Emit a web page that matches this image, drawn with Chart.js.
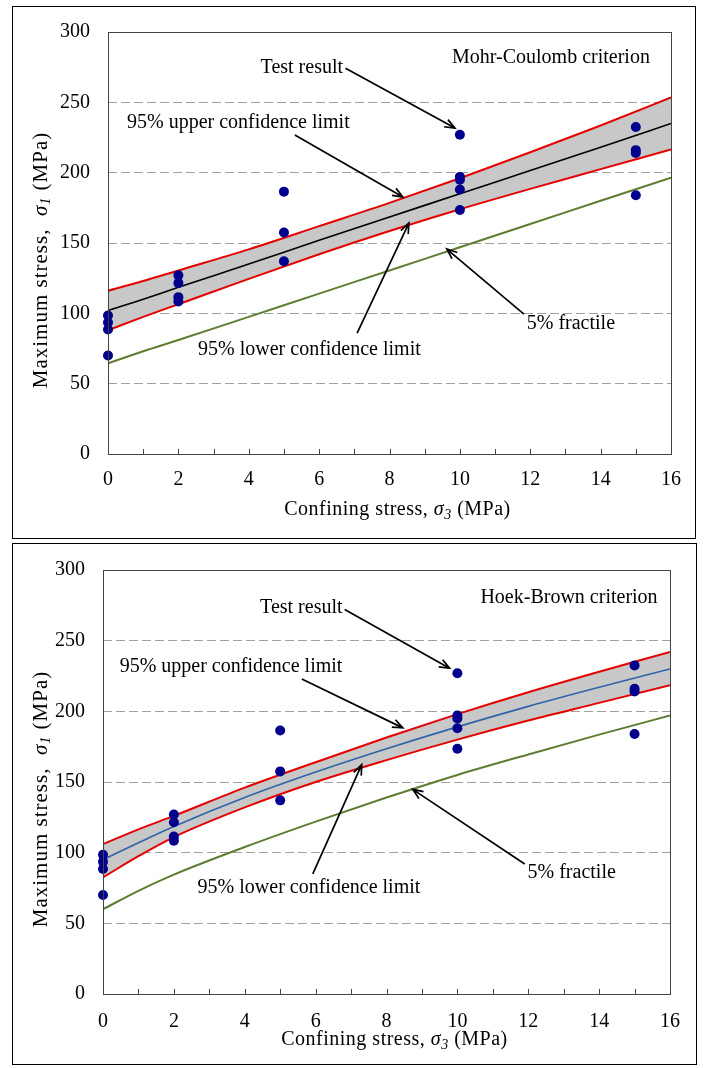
<!DOCTYPE html>
<html>
<head>
<meta charset="utf-8">
<script src="https://cdn.jsdelivr.net/npm/chart.js@4/dist/chart.umd.min.js"></script>
<style>
  body { margin: 0; background: #fff; width: 710px; height: 1068px; position: relative; overflow: hidden; }
  .frame { position: absolute; border: 1px solid #000; box-sizing: border-box; }
  canvas { position: absolute; left: 0; }
</style>
</head>
<body>
<div class="frame" style="left:12px;top:6px;width:684px;height:533px"></div>
<div class="frame" style="left:12px;top:543px;width:685px;height:522px"></div>
<canvas id="mc" width="710" height="540" style="top:0"></canvas>
<canvas id="hb" width="710" height="528" style="top:540px"></canvas>
<script>
// test results (confining stress, maximum stress), same for both criteria
const testS3 = [0, 0, 0, 0, 2, 2, 2, 2, 5, 5, 5, 10, 10, 10, 10, 10, 15, 15, 15, 15];
const testS1 = [98.5, 93.5, 88.5, 70, 127, 121.5, 111.5, 108.5, 186.5, 157.5, 137, 227, 197, 195, 188, 173.5, 232.5, 216, 214, 184];

// fitted curves at these confining stresses
const fitS3 = [0, 1, 2, 4, 6, 8, 10, 12, 14, 16];

const mcMean     = [102, 110, 118.5, 135, 152, 168.5, 185, 201.5, 218, 235];
const mcUpper    = [116, 123, 130.5, 145.5, 162, 178.5, 196, 214.5, 233.5, 253.5];
const mcLower    = [88, 97.5, 106.5, 124.5, 142, 158.5, 174, 188.5, 202.5, 216.5];
const mcFractile = [64.5, 73, 81, 97.5, 114, 130.5, 147, 163.5, 180, 196.5];

const hbMean     = [95, 107, 118.5, 139, 157, 173.5, 189, 203.5, 217, 230];
const hbUpper    = [106, 116.5, 126, 146, 164, 181.5, 198, 213.5, 228, 242];
const hbLower    = [82.5, 97.5, 111, 132, 150, 165.5, 180, 193.5, 206, 218.5];
const hbFractile = [60, 73, 84.5, 104, 122, 139, 155, 169.5, 183.5, 197];

const xTicks = [0, 2, 4, 6, 8, 10, 12, 14, 16];
const yTicks = [0, 50, 100, 150, 200, 250, 300];

const FONT = '"Liberation Serif", "Times New Roman", serif';

const pts = (xs, ys) => xs.map((x, i) => ({ x: x, y: ys[i] }));

function drawArrow(ctx, x1, y1, x2, y2) {
  const ang = Math.atan2(y2 - y1, x2 - x1);
  const len = 11, spread = 0.38;
  ctx.beginPath();
  ctx.moveTo(x1, y1);
  ctx.lineTo(x2, y2);
  ctx.moveTo(x2 - len * Math.cos(ang - spread), y2 - len * Math.sin(ang - spread));
  ctx.lineTo(x2, y2);
  ctx.lineTo(x2 - len * Math.cos(ang + spread), y2 - len * Math.sin(ang + spread));
  ctx.stroke();
}

// text with an italic sigma and subscript, centred on (0,0)
function sigmaTitle(ctx, size, before, sub, after) {
  const normal = size + 'px ' + FONT, ital = 'italic ' + size + 'px ' + FONT, small = 'italic 14px ' + FONT;
  ctx.font = normal; const w1 = ctx.measureText(before).width;
  ctx.font = ital; const w2 = ctx.measureText('\u03c3').width;
  ctx.font = small; const w3 = ctx.measureText(sub).width;
  ctx.font = normal; const w4 = ctx.measureText(after).width;
  let x = -(w1 + w2 + w3 + w4) / 2;
  ctx.textAlign = 'left';
  ctx.textBaseline = 'middle';
  ctx.font = normal; ctx.fillText(before, x, 0); x += w1;
  ctx.font = ital; ctx.fillText('\u03c3', x, 0); x += w2;
  ctx.font = small; ctx.fillText(sub, x, 5); x += w3;
  ctx.font = normal; ctx.fillText(after, x, 0);
}

const decor = {
  id: 'decor',
  afterDraw(chart, args, opts) {
    const { ctx, chartArea: a, scales: { x, y } } = chart;
    ctx.save();
    // plot frame
    ctx.strokeStyle = '#444';
    ctx.lineWidth = 1;
    ctx.strokeRect(Math.round(a.left) + 0.5, Math.round(a.top) + 0.5, Math.round(a.width), Math.round(a.height));
    // inner tick marks on x axis
    ctx.beginPath();
    for (let v = 1; v < 16; v++) {
      const px = Math.round(x.getPixelForValue(v)) + 0.5;
      ctx.moveTo(px, a.bottom);
      ctx.lineTo(px, a.bottom - 5);
    }
    ctx.stroke();

    // notes and arrows
    ctx.fillStyle = '#000';
    ctx.strokeStyle = '#000';
    ctx.lineWidth = 1.7;
    ctx.font = '20px ' + FONT;
    ctx.textBaseline = 'middle';
    opts.notes.forEach(n => {
      ctx.textAlign = n.align;
      ctx.fillText(n.text, x.getPixelForValue(n.at[0]), y.getPixelForValue(n.at[1]));
      if (n.from) {
        drawArrow(ctx, x.getPixelForValue(n.from[0]), y.getPixelForValue(n.from[1]),
                  x.getPixelForValue(n.to[0]), y.getPixelForValue(n.to[1]));
      }
    });

    // axis titles
    ctx.save();
    ctx.letterSpacing = '0.5px';
    ctx.translate(a.left + a.width / 2 + 8, a.bottom + opts.xTitleGap);
    sigmaTitle(ctx, 20, 'Confining stress, ', '3', ' (MPa)');
    ctx.restore();
    ctx.save();
    ctx.letterSpacing = '1px';
    ctx.translate(41, a.top + a.height / 2 + 17);
    ctx.rotate(-Math.PI / 2);
    sigmaTitle(ctx, 21, 'Maximum stress,  ', '1', ' (MPa)');
    ctx.restore();
    ctx.restore();
  }
};

function makeChart(id, mean, meanColor, upper, lower, fractile, layout, notes) {
  const line = (data, color, width, extra) => Object.assign({
    data: pts(fitS3, data),
    borderColor: color,
    borderWidth: width,
    pointRadius: 0,
    cubicInterpolationMode: 'monotone',
    fill: false
  }, extra || {});

  return new Chart(document.getElementById(id), {
    type: 'line',
    data: {
      datasets: [
        { data: pts(testS3, testS1), showLine: false, pointRadius: 5, pointHoverRadius: 5, clip: false,
          pointBackgroundColor: '#00008c', pointBorderColor: '#00008c', pointBorderWidth: 0, order: 1 },
        line(upper, '#e60000', 2, { fill: '+1', backgroundColor: '#c8c8c8', order: 3 }),
        line(lower, '#e60000', 2, { order: 3 }),
        line(mean, meanColor, 1.6, { order: 2 }),
        line(fractile, '#5e7d30', 2, { order: 4 })
      ]
    },
    options: {
      responsive: false,
      animation: false,
      devicePixelRatio: 1,
      layout: { padding: { top: layout.top, right: layout.right, left: 0, bottom: 0 } },
      plugins: {
        legend: { display: false },
        tooltip: { enabled: false },
        filler: { drawTime: 'beforeDatasetsDraw' },
        decor: { notes: notes, xTitleGap: layout.xTitleGap }
      },
      scales: {
        x: {
          type: 'linear', min: 0, max: 16,
          afterBuildTicks: s => { s.ticks = xTicks.map(v => ({ value: v })); },
          afterFit: s => { s.height = layout.xHeight; },
          ticks: { color: '#000', font: { family: FONT, size: 20 }, padding: layout.xPad, maxRotation: 0 },
          grid: { display: false },
          border: { display: false }
        },
        y: {
          min: 0, max: 300,
          afterBuildTicks: s => { s.ticks = yTicks.map(v => ({ value: v })); },
          afterFit: s => { s.width = layout.yWidth; },
          ticks: { color: '#000', font: { family: FONT, size: 20 }, padding: 18 },
          grid: {
            drawTicks: false,
            lineWidth: 1,
            color: c => (c.tick && (c.tick.value === 0 || c.tick.value === 300)) ? 'rgba(0,0,0,0)' : '#a0a0a0'
          },
          border: { display: false, dash: [9, 4] }
        }
      }
    },
    plugins: [decor]
  });
}

makeChart('mc', mcMean, '#000', mcUpper, mcLower, mcFractile,
  { top: 32, right: 39, yWidth: 108, xHeight: 86, xPad: 6, xTitleGap: 56 },
  [
    { text: 'Mohr-Coulomb criterion', align: 'right', at: [15.4, 281.4] },
    { text: 'Test result', align: 'right', at: [6.68, 274.3], from: [6.75, 274.3], to: [9.86, 231.7] },
    { text: '95% upper confidence limit', align: 'left', at: [0.54, 235.3], from: [5.31, 226.8], to: [8.38, 182.7] },
    { text: '95% lower confidence limit', align: 'left', at: [2.56, 73.9], from: [7.08, 86], to: [8.55, 164.2] },
    { text: '5% fractile', align: 'left', at: [11.9, 92.4], from: [11.82, 99.5], to: [9.63, 145.7] }
  ]);

makeChart('hb', hbMean, '#2e64a8', hbUpper, hbLower, hbFractile,
  { top: 27, right: 40, yWidth: 103, xHeight: 74, xPad: 8, xTitleGap: 46 },
  [
    { text: 'Hoek-Brown criterion', align: 'right', at: [15.65, 280.4] },
    { text: 'Test result', align: 'right', at: [6.76, 273.4], from: [6.82, 272], to: [9.78, 230.5] },
    { text: '95% upper confidence limit', align: 'left', at: [0.47, 231.2], from: [5.61, 222.8], to: [8.46, 188.3] },
    { text: '95% lower confidence limit', align: 'left', at: [2.67, 75.2], from: [5.92, 85], to: [7.30, 162.3] },
    { text: '5% fractile', align: 'left', at: [11.98, 85.7], from: [11.9, 92], to: [8.74, 144.8] }
  ]);
</script>
</body>
</html>
